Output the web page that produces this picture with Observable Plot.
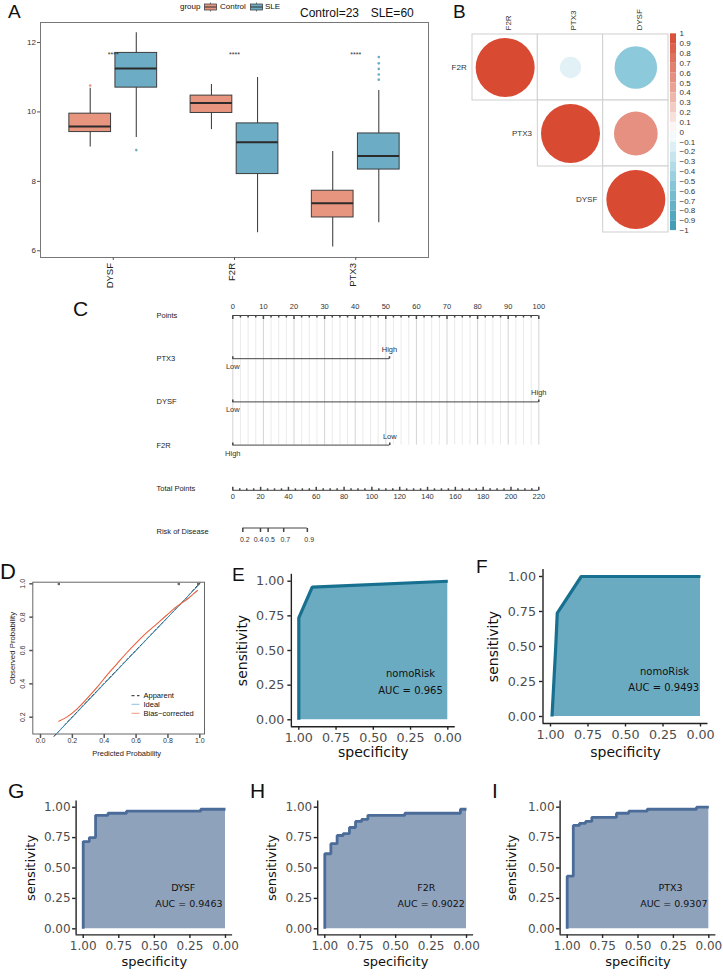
<!DOCTYPE html>
<html><head><meta charset="utf-8">
<script src="https://cdn.jsdelivr.net/npm/d3@7"></script>
<script src="https://cdn.jsdelivr.net/npm/@observablehq/plot@0.6"></script>
<style>
html,body{margin:0;padding:0;background:#fff;}
#fig{position:relative;width:723px;height:976px;overflow:hidden;background:#fff;font-family:"Liberation Sans",Arial,sans-serif;}
.layer{position:absolute;left:0;top:0;width:723px;height:976px;}
.layer svg{display:block;}
.lbl{position:absolute;line-height:1;white-space:nowrap;color:#111;}
</style></head><body><div id="fig"></div>
<script>
// ---------------- DATA ----------------
// Panel A: boxplot statistics
const genes = ["DYSF", "F2R", "PTX3"];
const groups = ["Control", "SLE"];
const ctrlQ1 = [9.42, 9.97, 6.96];
const ctrlMed = [9.58, 10.26, 7.37];
const ctrlQ3 = [9.95, 10.47, 7.73];
const ctrlLo = [8.99, 9.49, 6.11];
const ctrlHi = [10.68, 10.79, 8.86];
const sleQ1 = [10.70, 8.21, 8.34];
const sleMed = [11.25, 9.13, 8.73];
const sleQ3 = [11.70, 9.67, 9.38];
const sleLo = [9.26, 6.52, 6.81];
const sleHi = [12.28, 10.99, 10.62];
const outGene = ["DYSF", "DYSF", "PTX3", "PTX3", "PTX3", "PTX3", "PTX3"];
const outGroup = ["Control", "SLE", "SLE", "SLE", "SLE", "SLE", "SLE"];
const outVal = [10.76, 8.90, 10.93, 11.08, 11.24, 11.40, 11.58];
const sigLabels = ["****", "****", "****"];
const yTicksA = [6, 8, 10, 12];

// Panel B: correlation (upper triangle)
const corrVars = ["F2R", "PTX3", "DYSF"];
const corrRow = ["F2R", "F2R", "F2R", "PTX3", "PTX3", "DYSF"];
const corrCol = ["F2R", "PTX3", "DYSF", "PTX3", "DYSF", "DYSF"];
const corrVal = [1, -0.13, -0.52, 1, 0.55, 1];
const cbTicks = [1, 0.9, 0.8, 0.7, 0.6, 0.5, 0.4, 0.3, 0.2, 0.1, 0, -0.1, -0.2, -0.3, -0.4, -0.5, -0.6, -0.7, -0.8, -0.9, -1];
const cbLabels = ["1", "0.9", "0.8", "0.7", "0.6", "0.5", "0.4", "0.3", "0.2", "0.1", "0", "\u22120.1", "\u22120.2", "\u22120.3", "\u22120.4", "\u22120.5", "\u22120.6", "\u22120.7", "\u22120.8", "\u22120.9", "\u22121"];

// Panel C: nomogram
const nomoRows = ["Points", "PTX3", "DYSF", "F2R", "Total Points", "Risk of Disease"];
const nomoVars = ["PTX3", "DYSF", "F2R"];
const nomoMaxPts = [51.2, 100, 51.3];
const nomoLeftLab = ["Low", "Low", "High"];
const nomoRightLab = ["High", "High", "Low"];
const pointsMajor = [0, 10, 20, 30, 40, 50, 60, 70, 80, 90, 100];
const totalMajor = [0, 20, 40, 60, 80, 100, 120, 140, 160, 180, 200, 220];
const riskLabels = ["0.2", "0.4", "0.5", "0.7", "0.9"];
const riskTickPts = [7.2, 19.9, 25.4, 36.6, 53.6];
const riskLabelPts = [8.6, 18.5, 26.7, 37.7, 54.9];

// Panel D: calibration
const dTicksX = [0, 0.2, 0.4, 0.6, 0.8, 1.0];
const dTicksY = [0.2, 0.4, 0.6, 0.8, 1.0];
const idealX = [0.1, 1.0];
const idealY = [0.1, 1.0];
const apparentX = [0.085, 0.2, 0.35, 0.5, 0.65, 0.8, 0.9, 1.0];
const apparentY = [0.085, 0.202, 0.353, 0.503, 0.652, 0.8, 0.9, 1.005];
const biasX = [0.115, 0.167, 0.23, 0.29, 0.36, 0.42, 0.48, 0.54, 0.61, 0.67, 0.73, 0.79, 0.85, 0.88, 0.93, 0.96, 0.985];
const biasY = [0.176, 0.202, 0.25, 0.31, 0.385, 0.455, 0.52, 0.585, 0.655, 0.71, 0.76, 0.81, 0.86, 0.88, 0.915, 0.94, 0.96];
const spikeX = [0.115, 0.868, 0.99];

// Panels E-I: ROC curves (specificity, sensitivity)
const rocTicks = [0, 0.25, 0.5, 0.75, 1];
const nomoTrainSpec = [1, 1, 0.91, 0];
const nomoTrainSens = [0, 0.736, 0.957, 1.0];
const nomoTestSpec = [0.99, 0.965, 0.955, 0.795, 0];
const nomoTestSens = [0, 0.5, 0.738, 1.0, 1.0];
const dysfSpec = [1, 1, 0.957, 0.957, 0.913, 0.913, 0.826, 0.826, 0.696, 0.696, 0.174, 0.174, 0];
const dysfSens = [0, 0.717, 0.717, 0.75, 0.75, 0.933, 0.933, 0.95, 0.95, 0.967, 0.967, 0.983, 0.983];
const f2rSpec = [1, 1, 0.957, 0.957, 0.913, 0.913, 0.870, 0.870, 0.826, 0.826, 0.783, 0.783, 0.739, 0.739, 0.696, 0.696, 0.435, 0.435, 0.043, 0.043, 0];
const f2rSens = [0, 0.617, 0.617, 0.7, 0.7, 0.767, 0.767, 0.783, 0.783, 0.833, 0.833, 0.883, 0.883, 0.9, 0.9, 0.933, 0.933, 0.95, 0.95, 0.983, 0.983];
const ptx3Spec = [1, 1, 0.957, 0.957, 0.913, 0.913, 0.870, 0.870, 0.826, 0.826, 0.652, 0.652, 0.565, 0.565, 0.435, 0.435, 0.087, 0.087, 0];
const ptx3Sens = [0, 0.433, 0.433, 0.85, 0.85, 0.867, 0.867, 0.883, 0.883, 0.917, 0.917, 0.95, 0.95, 0.967, 0.967, 0.983, 0.983, 1.0, 1.0];

// ---------------- HELPERS ----------------
const W = 723, H = 976;
const fig = document.getElementById("fig");
function layer(svg, clip) {
  const d = document.createElement("div");
  d.className = "layer";
  if (clip) d.style.clipPath = clip;
  d.appendChild(svg);
  fig.appendChild(d);
}
function label(text, x, base, fs, extra) {
  const d = document.createElement("div");
  d.className = "lbl";
  d.textContent = text;
  d.style.left = x + "px";
  d.style.top = (base - 0.846 * fs) + "px";
  d.style.fontSize = fs + "px";
  if (extra) Object.assign(d.style, extra);
  fig.appendChild(d);
  return d;
}
const SANS = "'Liberation Sans', Arial, Helvetica, sans-serif";
const base = {width: W, height: H, style: {background: "transparent", fontFamily: SANS, overflow: "visible"}};
const mkTick = (ux, uy) => ({draw(ctx, size) { const L = Math.sqrt(size / Math.PI); ctx.moveTo(0, 0); ctx.lineTo(ux * L, uy * L); }});
const tickDown = mkTick(0, 1), tickUp = mkTick(0, -1), tickLeft = mkTick(-1, 0);

// ---------------- PANEL A ----------------
const boxRows = [];
genes.forEach((g, i) => {
  boxRows.push({gene: g, group: "Control", gi: i + 1, side: -1, q1: ctrlQ1[i], med: ctrlMed[i], q3: ctrlQ3[i], lo: ctrlLo[i], hi: ctrlHi[i]});
  boxRows.push({gene: g, group: "SLE", gi: i + 1, side: 1, q1: sleQ1[i], med: sleMed[i], q3: sleQ3[i], lo: sleLo[i], hi: sleHi[i]});
});
const outliers = outVal.map((v, i) => ({gi: genes.indexOf(outGene[i]) + 1, side: outGroup[i] === "Control" ? -1 : 1, group: outGroup[i], v}));
const DODGE = 0.19, HALF = 0.172;
const cx = d => d.gi + d.side * DODGE;
const CTRL = "#E89580", SLEC = "#6CACC4";

layer(Plot.plot({...base,
  marginLeft: 40, marginRight: W - 428, marginTop: 22, marginBottom: H - 257,
  x: {type: "linear", domain: [0.4, 3.6]},
  y: {domain: [6, 12], range: [250.3, 42]},
  color: {domain: groups, range: [CTRL, SLEC]},
  marks: [
    Plot.frame({stroke: "#777", strokeWidth: 1}),
    Plot.axisY({ticks: yTicksA, tickFormat: d => String(d), tickSize: 3, tickPadding: 1.5, fontSize: 8, fill: "#333", stroke: "#555", label: null}),
    Plot.axisX({ticks: [1, 2, 3], tickSize: 3, tickFormat: () => "", stroke: "#555", label: null}),
    Plot.text(genes, {x: (d, i) => i + 1, frameAnchor: "bottom", dy: 5.5, rotate: -90, textAnchor: "end", fontSize: 9.5, fill: "#222"}),
    Plot.ruleX(boxRows, {x: cx, y1: "lo", y2: "hi", stroke: "#444", strokeWidth: 1.1}),
    Plot.rect(boxRows, {x1: d => cx(d) - HALF, x2: d => cx(d) + HALF, y1: "q1", y2: "q3", fill: "group", stroke: "#3d3d3d", strokeWidth: 1}),
    Plot.ruleY(boxRows, {y: "med", x1: d => cx(d) - HALF, x2: d => cx(d) + HALF, stroke: "#2b2b2b", strokeWidth: 2}),
    Plot.dot(outliers, {x: cx, y: "v", r: 1.3, fill: "group", stroke: "none"}),
    Plot.text(sigLabels, {x: (d, i) => i + 1, frameAnchor: "top", dy: 29.5, textAnchor: "middle", fontSize: 7, fill: "#333"})
  ]
}));

// legend for A
function swatch(x, col) {
  fig.insertAdjacentHTML("beforeend",
    `<svg width="14" height="12" style="position:absolute;left:${x}px;top:1px;overflow:visible">
      <line x1="6.5" y1="1.5" x2="6.5" y2="10.5" stroke="#555" stroke-width="0.8"/>
      <rect x="0.5" y="3" width="12" height="6" fill="${col}" stroke="#444" stroke-width="0.8"/>
      <line x1="0.5" y1="6" x2="12.5" y2="6" stroke="#333" stroke-width="1"/></svg>`);
}
label("group", 180, 10, 8);
swatch(204, CTRL);
label("Control", 220, 10, 8);
swatch(249.5, SLEC);
label("SLE", 265, 10, 8);
label("Control=23", 300, 17.5, 12);
label("SLE=60", 370.7, 17.5, 12);

// ---------------- PANEL B ----------------
const corrCells = corrRow.map((r, i) => ({row: r, col: corrCol[i], v: corrVal[i]}));
const corrColor = d3.scaleLinear([-1, -0.5, 0, 0.5, 1], ["#3A98B3", "#8FCBDC", "#FFFFFF", "#E69888", "#D94A33"]);
const colorOpt = {type: "linear", domain: [-1, 1], interpolate: t => corrColor(2 * t - 1)};
layer(Plot.plot({...base,
  marginLeft: 472, marginRight: W - 668, marginTop: 34, marginBottom: H - 232,
  x: {type: "band", domain: corrVars, padding: 0, round: false, axis: null},
  y: {type: "band", domain: corrVars, padding: 0, round: false, axis: null},
  r: {type: "sqrt", domain: [0, 1], range: [0, 29.5]},
  color: colorOpt,
  marks: [
    Plot.cell(corrCells, {x: "col", y: "row", fill: "white", stroke: "#cfcfcf", inset: 0}),
    Plot.dot(corrCells, {x: "col", y: "row", r: d => Math.abs(d.v), fill: "v", stroke: "none"}),
    Plot.text(corrVars, {x: d => d, frameAnchor: "top", dy: -4, rotate: -90, textAnchor: "start", fontSize: 8, fill: "#333"}),
    Plot.text(corrVars, {x: d => d, y: d => d, dx: -38.5, textAnchor: "end", fontSize: 8, fill: "#333"})
  ]
}));
const cbBins = cbTicks.slice(1).map((lo, i) => ({lo, hi: cbTicks[i], mid: (lo + cbTicks[i]) / 2}));
layer(Plot.plot({...base,
  marginLeft: 670, marginRight: W - 676, marginTop: 33, marginBottom: H - 231,
  y: {domain: [-1, 1], range: [230.1, 33.3], axis: null},
  color: colorOpt,
  marks: [
    Plot.rect(cbBins, {y1: "lo", y2: "hi", fill: "mid"}),
    Plot.text(cbTicks, {y: d => d, frameAnchor: "right", dx: 3, textAnchor: "start", text: (d, i) => cbLabels[i], fontSize: 8, fill: "#333"})
  ]
}));

// ---------------- PANEL C ----------------
const pointsMinor = d3.range(0, 100.01, 2.5);
const cY = {type: "point", domain: nomoRows, range: [315, 531], padding: 0, round: false, axis: null};
const cMargins = {marginLeft: 232.3, marginRight: W - 538.3, marginTop: 290, marginBottom: H - 550};
const ink = "#444";
layer(Plot.plot({...base, ...cMargins,
  x: {domain: [0, 100], axis: null},
  y: cY,
  marks: [
    Plot.ruleX(pointsMinor.filter(d => d % 10 !== 0), {x: d => d, y1: () => "Points", y2: () => "F2R", stroke: "#ebebeb", strokeWidth: 1}),
    Plot.ruleX(pointsMajor, {x: d => d, y1: () => "Points", y2: () => "F2R", stroke: "#d4d4d4", strokeWidth: 1}),
    Plot.ruleY(["Points"], {y: d => d, x1: () => 0, x2: () => 100, stroke: ink}),
    Plot.dot(pointsMinor.filter(d => d % 10 !== 0), {x: d => d, y: () => "Points", symbol: tickDown, r: 2, stroke: ink, fill: "none"}),
    Plot.dot(pointsMajor, {x: d => d, y: () => "Points", symbol: tickDown, r: 3.5, stroke: ink, fill: "none"}),
    Plot.text(pointsMajor, {x: d => d, y: () => "Points", dy: -9, textAnchor: "middle", fontSize: 7.5, fill: "#333"}),
    Plot.ruleY(nomoVars, {y: d => d, x1: () => 0, x2: (d, i) => nomoMaxPts[i], stroke: ink}),
    Plot.dot(nomoVars, {x: () => 0, y: d => d, symbol: tickUp, r: 2.5, stroke: ink, fill: "none"}),
    Plot.dot(nomoVars, {x: (d, i) => nomoMaxPts[i], y: d => d, symbol: tickUp, r: 2.5, stroke: ink, fill: "none"}),
    Plot.text(nomoVars, {x: () => 0, y: d => d, text: (d, i) => nomoLeftLab[i], dy: 8, textAnchor: "middle", fontSize: 7.5, fill: "#333"}),
    Plot.text(nomoVars, {x: (d, i) => nomoMaxPts[i], y: d => d, text: (d, i) => nomoRightLab[i], dy: -9, textAnchor: "middle", fontSize: 7.5, fill: "#333"}),
    Plot.text(nomoRows, {y: d => d, frameAnchor: "left", dx: 156 - 232.3, textAnchor: "start", fontSize: 7.5, fill: "#222"})
  ]
}));
const totalMinor = d3.range(0, 220.01, 5).filter(d => d % 20 !== 0);
layer(Plot.plot({...base, ...cMargins,
  x: {domain: [0, 220], axis: null},
  y: cY,
  marks: [
    Plot.ruleY(["Total Points"], {y: d => d, x1: () => 0, x2: () => 220, dy: 2, stroke: ink}),
    Plot.dot(totalMinor, {x: d => d, y: () => "Total Points", dy: 2, symbol: tickUp, r: 2, stroke: ink, fill: "none"}),
    Plot.dot(totalMajor, {x: d => d, y: () => "Total Points", dy: 2, symbol: tickUp, r: 3.5, stroke: ink, fill: "none"}),
    Plot.text(totalMajor, {x: d => d, y: () => "Total Points", dy: 8.7, textAnchor: "middle", fontSize: 7.5, fill: "#333"}),
    Plot.ruleY(["Risk of Disease"], {y: d => d, x1: () => riskTickPts[0], x2: () => riskTickPts[riskTickPts.length - 1], dy: -3.5, stroke: ink}),
    Plot.dot(riskTickPts, {x: d => d, y: () => "Risk of Disease", dy: -3.5, symbol: tickDown, r: 4, stroke: ink, fill: "none"}),
    Plot.text(riskLabels, {x: (d, i) => riskLabelPts[i], y: () => "Risk of Disease", dy: 8.3, textAnchor: "middle", fontSize: 7, fill: "#333"})
  ]
}));

// ---------------- PANEL D ----------------
layer(Plot.plot({...base,
  marginLeft: 32.3, marginRight: W - 204, marginTop: 581.7, marginBottom: H - 733.5,
  x: {domain: [0, 1], range: [40, 199.3], axis: null},
  y: {domain: [0.2, 1], range: [716.7, 583.3], axis: null},
  marks: [
    Plot.frame({stroke: "#666"}),
    Plot.line(apparentX.map((x, i) => [x, apparentY[i]]), {stroke: "#222", strokeWidth: 1, strokeDasharray: "3,2"}),
    Plot.line(idealX.map((x, i) => [x, idealY[i]]), {stroke: "#3A8FC0", strokeWidth: 1}),
    Plot.line(biasX.map((x, i) => [x, biasY[i]]), {stroke: "#E8603C", strokeWidth: 1.1, curve: "catmull-rom"}),
    Plot.dot(spikeX, {x: d => d, frameAnchor: "top", dy: 1.8, symbol: "square", r: 1.3, fill: "#666", stroke: "none"}),
    Plot.dot(dTicksX, {x: d => d, frameAnchor: "bottom", symbol: tickDown, r: 4, stroke: "#555", fill: "none"}),
    Plot.text(dTicksX, {x: d => d, frameAnchor: "bottom", dy: 8.8, textAnchor: "middle", text: d => d.toFixed(1), fontSize: 7, fill: "#333"}),
    Plot.dot(dTicksY, {y: d => d, frameAnchor: "left", symbol: tickLeft, r: 3.5, stroke: "#555", fill: "none"}),
    Plot.text(dTicksY, {y: d => d, frameAnchor: "left", dx: -9.8, rotate: -90, textAnchor: "middle", text: d => d.toFixed(1), fontSize: 7, fill: "#333"}),
    Plot.text(["Predicted Probability"], {frameAnchor: "bottom", dx: 8, dy: 22.2, textAnchor: "middle", fontSize: 7.5, fill: "#222"}),
    Plot.text(["Observed Probability"], {frameAnchor: "left", dx: -20.6, dy: -10, rotate: -90, textAnchor: "middle", fontSize: 7.8, fill: "#222"})
  ]
}));
// legend for D
fig.insertAdjacentHTML("beforeend",
  `<svg width="12" height="24" style="position:absolute;left:131px;top:692px">
     <line x1="0.5" y1="3.7" x2="8.5" y2="3.7" stroke="#222" stroke-width="1" stroke-dasharray="3,2.5"/>
     <line x1="0.5" y1="12.3" x2="8.5" y2="12.3" stroke="#8CC4DE" stroke-width="1"/>
     <line x1="0.5" y1="21.3" x2="8.5" y2="21.3" stroke="#F09A82" stroke-width="1"/></svg>`);
label("Apparent", 143.5, 698.4, 7.5);
label("Ideal", 143.5, 707, 7.5);
label("Bias\u2212corrected", 143.5, 716, 7.5);

// ---------------- ROC PANELS ----------------
function roc(spec, sens, o) {
  const pts = spec.map((s, i) => ({spec: s, sens: sens[i]}));
  const svg = Plot.plot({...base,
    style: {background: "transparent", fontFamily: "'DejaVu Sans', sans-serif", overflow: "visible"},
    marginLeft: o.xL, marginRight: W - o.xR, marginTop: o.yT, marginBottom: H - o.yB,
    x: {domain: [1.05, -0.05]},
    y: {domain: [-0.05, 1.05]},
    marks: [
      Plot.area(pts, {x1: "spec", y1: () => 0, y2: "sens", fill: o.fill}),
      Plot.line(pts, {x: "spec", y: "sens", stroke: o.stroke, strokeWidth: o.lw, strokeLinecap: "butt", strokeLinejoin: "miter"}),
      Plot.ruleX([1.05], {stroke: "#222", strokeWidth: 1.4}),
      Plot.ruleY([-0.05], {stroke: "#222", strokeWidth: 1.4}),
      Plot.axisY({ticks: rocTicks, tickFormat: d => d.toFixed(2), tickSize: 3.5, tickPadding: o.pad, fontSize: o.tickFs, fill: "#4d4d4d", stroke: "#222", strokeWidth: 1.4, label: null}),
      Plot.axisX({ticks: rocTicks, tickFormat: d => d.toFixed(2), tickSize: 3.5, tickPadding: 3, fontSize: o.tickFs, fill: "#4d4d4d", stroke: "#222", strokeWidth: 1.4, label: null}),
      Plot.text(["sensitivity"], {frameAnchor: "left", dx: o.ylabDx, rotate: -90, textAnchor: "middle", fontSize: o.titleFs, fill: "#111"}),
      Plot.text(["specificity"], {frameAnchor: "bottom", dy: o.xlabDy, textAnchor: "middle", fontSize: o.titleFs, fill: "#111"}),
      Plot.text([o.name], {frameAnchor: "bottom-right", dx: o.nameDx, dy: o.nameDy, textAnchor: "middle", fontSize: o.annFs, fill: "#111"}),
      Plot.text([o.auc], {frameAnchor: "bottom-right", dx: o.aucDx, dy: o.aucDy, textAnchor: "middle", fontSize: o.annFs, fill: "#111"})
    ]
  });
  layer(svg, o.clip);
}
const tealFill = "#6BABC2", tealLine = "#17708F", slateFill = "#8FA2BC", slateLine = "#4B6C98";
roc(nomoTrainSpec, nomoTrainSens, {xL: 290.85, xR: 454.75, yT: 573.8, yB: 726.2, fill: tealFill, stroke: tealLine, lw: 3.2,
  tickFs: 12.7, titleFs: 14, annFs: 10, pad: 3.5, ylabDx: -48.85, xlabDy: 30.6,
  name: "nomoRisk", auc: "AUC = 0.965", nameDx: -44.75, nameDy: -49.5, aucDx: -44.75, aucDy: -32.9, clip: "inset(0 0 215px 0)"});
roc(nomoTestSpec, nomoTestSens, {xL: 542.5, xR: 707.5, yT: 569, yB: 723, fill: tealFill, stroke: tealLine, lw: 3.2,
  tickFs: 12.7, titleFs: 14, annFs: 10, pad: 3.5, ylabDx: -49.2, xlabDy: 33.7,
  name: "nomoRisk", auc: "AUC = 0.9493", nameDx: -43.5, nameDy: -49, aucDx: -44.2, aucDy: -32.3});
roc(dysfSpec, dysfSens, {xL: 75.6, xR: 232.1, yT: 800.6, yB: 934.4, fill: slateFill, stroke: slateLine, lw: 2.8,
  tickFs: 12, titleFs: 13, annFs: 9.5, pad: 2, ylabDx: -45.6, xlabDy: 30.6,
  name: "DYSF", auc: "AUC = 0.9463", nameDx: -49.4, nameDy: -44.4, aucDx: -43.8, aucDy: -27.7});
roc(f2rSpec, f2rSens, {xL: 317.2, xR: 473.1, yT: 800.6, yB: 934.4, fill: slateFill, stroke: slateLine, lw: 2.8,
  tickFs: 12, titleFs: 13, annFs: 9.5, pad: 2, ylabDx: -45.5, xlabDy: 30.6,
  name: "F2R", auc: "AUC = 0.9022", nameDx: -47.3, nameDy: -44.4, aucDx: -42.4, aucDy: -27.7});
roc(ptx3Spec, ptx3Sens, {xL: 559.6, xR: 715.4, yT: 800.6, yB: 934.4, fill: slateFill, stroke: slateLine, lw: 2.8,
  tickFs: 12, titleFs: 13, annFs: 9.5, pad: 2, ylabDx: -47.9, xlabDy: 30.6,
  name: "PTX3", auc: "AUC = 0.9307", nameDx: -45.4, nameDy: -44.4, aucDx: -42.1, aucDy: -27.7});

// ---------------- PANEL LETTERS ----------------
label("A", 8, 18, 19);
label("B", 453, 18, 19);
label("C", 73, 315.7, 21);
label("D", 0, 580, 22);
label("E", 232, 581, 19);
label("F", 476, 573, 19);
label("G", 8, 798, 21);
label("H", 250, 798, 21);
label("I", 492, 798, 21);
</script></body></html>
